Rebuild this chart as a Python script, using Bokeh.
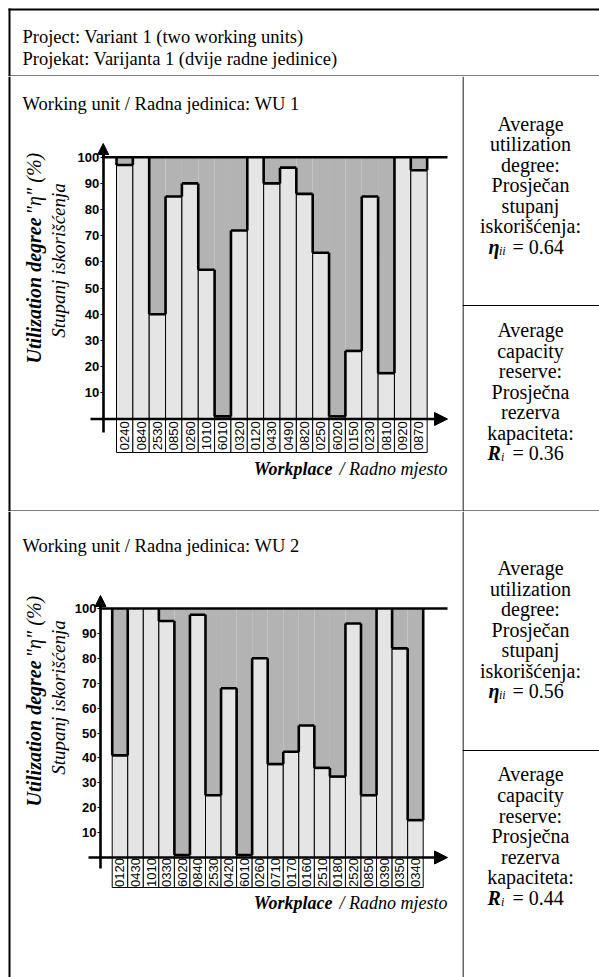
import math
from bokeh.plotting import figure
from bokeh.models import Range1d, FixedTicker, LinearAxis, Arrow, NormalHead
from bokeh.layouts import row, column
from bokeh.core.properties import value
from bokeh.embed import file_html
from bokeh.resources import INLINE

# ---------------- data ----------------
header_lines = ["Project: Variant 1 (two working units)",
                "Projekat: Varijanta 1 (dvije radne jedinice)"]

wu1_title = "Working unit / Radna jedinica: WU 1"
wu1_places = ["0240", "0840", "2530", "0850", "0260", "1010", "6010", "0320", "0120", "0430",
              "0490", "0820", "0250", "6020", "0150", "0230", "0810", "0920", "0870"]
wu1_util = [97, 100, 40, 85, 90, 57, 1, 72, 100, 90, 96, 86, 63.5, 1, 26, 85, 17.5, 100, 95]
wu1_avg_util = 0.64
wu1_avg_reserve = 0.36

wu2_title = "Working unit / Radna jedinica: WU 2"
wu2_places = ["0120", "0430", "1010", "0330", "6020", "0840", "2530", "0420", "6010", "0260",
              "0710", "0170", "0160", "2510", "0180", "2520", "0850", "0390", "0350", "0340"]
wu2_util = [41, 100, 100, 95, 1, 97.5, 25, 68, 1, 80, 37.5, 42.5, 53, 36, 32.5, 94, 25, 100, 84, 15]
wu2_avg_util = 0.56
wu2_avg_reserve = 0.44

y_ticks = [10, 20, 30, 40, 50, 60, 70, 80, 90, 100]
full_capacity = 100

util_lines = ["Average", "utilization", "degree:", "Prosječan", "stupanj", "iskorišćenja:"]
reserve_lines = ["Average", "capacity", "reserve:", "Prosječna", "rezerva", "kapaciteta:"]
y_title_main = "Utilization degree"
y_title_sym = "\"\u03b7\" (%)"
y_title_sub = "Stupanj iskorišćenja"
x_title_main = "Workplace"
x_title_sub = "/ Radno mjesto"

# ---------------- style ----------------
LIGHT = "#e5e5e5"
DARK = "#b3b3b3"
SERIF = "'Liberation Serif'"
SANS = "'Liberation Sans'"


def base_fig(w, h, xr, yr):
    p = figure(width=w, height=h, toolbar_location=None, output_backend="svg",
               x_axis_location=None, y_axis_location=None, min_border=0,
               x_range=xr, y_range=yr,
               background_fill_color="white", border_fill_color="white",
               outline_line_color=None)
    p.grid.visible = False
    return p


def px_fig(w, h):
    return base_fig(w, h, Range1d(0, w), Range1d(h, 0))


def serif_text(p, x, y, txt, size, style="normal", align="left", angle=0.0, baseline="middle"):
    p.text(x=[x], y=[y], text=[txt], angle=angle, text_align=align, text_baseline=baseline,
           text_font=value(SERIF), text_font_style=style, text_font_size=size,
           text_color="black")


def make_chart(g, title, places, util):
    W, H = g["W"], g["H"]
    ox, oy = g["origin"]
    bl, bw, zy, ppu = g["bar0_left"], g["bar_w"], g["zero_y"], g["ppu"]

    def xd(px):
        return (px - bl) / bw - 0.5

    def yd(py):
        return (zy - py) / ppu

    p = base_fig(W, H, Range1d(xd(ox), xd(ox + W)), Range1d(yd(oy + H), yd(oy)))
    n = len(util)
    xs = list(range(n))
    box_bottom = yd(g["box_bottom"])

    # cell borders: outer left border (and bottom line for the upper cell)
    p.segment(x0=[xd(9)], y0=[yd(oy)], x1=[xd(9)], y1=[yd(oy + H)],
              line_color="black", line_width=2)
    if g["bottom_line"]:
        p.segment(x0=[xd(8)], y0=[yd(oy + H - 0.5)], x1=[xd(ox + W)], y1=[yd(oy + H - 0.5)],
                  line_color="black", line_width=1.2)

    # label boxes
    p.vbar(x=xs, width=1, bottom=box_bottom, top=0, fill_color="white",
           line_color="black", line_width=1)
    # utilization bars
    p.vbar(x=xs, width=1, bottom=0, top=util, fill_color=LIGHT,
           line_color="black", line_width=1)
    # capacity reserve
    p.vbar(x=xs, width=1, bottom=util, top=full_capacity, fill_color=DARK,
           line_color=None)
    # thick outline of the reserve area
    x0, y0, x1, y1 = [], [], [], []
    for i, v in enumerate(util):
        if v < full_capacity:
            x0.append(i - 0.5); x1.append(i + 0.5); y0.append(v); y1.append(v)
    ext = [full_capacity] + list(util) + [full_capacity]
    for b in range(n + 1):
        a, c = ext[b], ext[b + 1]
        if a != c:
            x0.append(b - 0.5); x1.append(b - 0.5); y0.append(min(a, c)); y1.append(max(a, c))
    p.segment(x0=x0, y0=y0, x1=x1, y1=y1, line_color="black", line_width=2.6)
    # 100 % line
    p.segment(x0=[xd(g["axis_x"])], y0=[full_capacity], x1=[xd(g["tip"])], y1=[full_capacity],
              line_color="black", line_width=2.6)
    # workplace codes
    p.text(x=xs, y=[yd((zy + g["box_bottom"]) / 2)] * n, text=places, angle=math.pi / 2,
           text_align="center", text_baseline="middle", text_font=value(SANS),
           text_font_size="13px", text_color="black")

    # y axis (real axis, fixed inside the frame)
    yax = LinearAxis(fixed_location=xd(g["axis_x"]), ticker=FixedTicker(ticks=y_ticks),
                     bounds=(yd(g["axis_bottom"]), yd(g["ytip"] + 8)),
                     axis_line_width=2.6, axis_line_color="black",
                     major_tick_out=3, major_tick_in=0, major_tick_line_width=1,
                     minor_tick_out=0, minor_tick_in=0,
                     major_label_text_font=SANS, major_label_text_font_style="bold",
                     major_label_text_font_size="13px", major_label_standoff=1,
                     major_label_text_color="black")
    p.add_layout(yax, "left")

    # arrows
    p.add_layout(Arrow(end=NormalHead(size=13, fill_color="black", line_color="black", line_width=1),
                       x_start=xd(g["xaxis_start"]), y_start=0, x_end=xd(g["tip"]), y_end=0,
                       line_color="black", line_width=2.6))
    p.add_layout(Arrow(end=NormalHead(size=11, fill_color="black", line_color="black", line_width=1),
                       x_start=xd(g["axis_x"]), y_start=full_capacity, x_end=xd(g["axis_x"]),
                       y_end=yd(g["ytip"]), line_color="black", line_width=2.6))

    # texts
    serif_text(p, xd(22), yd(g["title_y"]), title, "18.5px")
    serif_text(p, xd(g["yt_x"]), yd(g["yt_start"]), y_title_main, "20px", "bold italic",
               angle=math.pi / 2)
    serif_text(p, xd(g["yt_x"]), yd(g["yt_sym"]), y_title_sym, "20px", "italic",
               angle=math.pi / 2)
    serif_text(p, xd(g["ys_x"]), yd(g["ys_c"]), y_title_sub, "19px", "italic",
               align="center", angle=math.pi / 2)
    serif_text(p, xd(332), yd(g["xt_y"]), x_title_main, "18px", "bold italic", align="right")
    serif_text(p, xd(g["tip"]), yd(g["xt_y"]), x_title_sub, "18px", "italic", align="right")
    return p


def make_side(h, divider_y, ys_util, eta_y, ys_res, r_y, eta_val, res_val, bottom_line):
    w = 137
    p = px_fig(w, h)
    p.segment(x0=[0.5, 0], y0=[0, divider_y], x1=[0.5, w], y1=[h, divider_y],
              line_color="black", line_width=1.2)
    if bottom_line:
        p.segment(x0=[0], y0=[h - 0.5], x1=[w], y1=[h - 0.5], line_color="black", line_width=1.2)
    cx = 68
    size = "20px"
    p.text(x=[cx] * len(util_lines), y=ys_util, text=util_lines, text_align="center",
           text_baseline="middle", text_font=value(SERIF), text_font_size=size, text_color="black")
    p.text(x=[cx] * len(reserve_lines), y=ys_res, text=reserve_lines, text_align="center",
           text_baseline="middle", text_font=value(SERIF), text_font_size=size, text_color="black")
    # eta_ii = value
    serif_text(p, 26, eta_y, "\u03b7", size, "bold italic")
    serif_text(p, 36.5, eta_y + 4, "ii", "12px", "italic")
    serif_text(p, 50, eta_y, f"= {eta_val:.2f}", size)
    # R_i = value
    serif_text(p, 25, r_y, "R", size, "bold italic")
    serif_text(p, 38.5, r_y + 4, "i", "12px", "italic")
    serif_text(p, 50, r_y, f"= {res_val:.2f}", size)
    return p


# header cell
header = px_fig(599, 76)
header.segment(x0=[8, 9, 8], y0=[9, 8, 75.5], x1=[599, 9, 599], y1=[9, 76, 75.5],
               line_color="black", line_width=[2, 2, 1.2])
for i, line in enumerate(header_lines):
    serif_text(header, 22, [36.5, 58.5][i], line, "18.5px", baseline="alphabetic")

g1 = dict(W=462, H=435, origin=(0, 76), bar0_left=116, bar_w=16.35, zero_y=418.5,
          ppu=2.618, axis_x=102.7, box_bottom=452, axis_bottom=432, xaxis_start=90, tip=447,
          ytip=143, title_y=103, yt_x=33, yt_start=363, yt_sym=214, ys_x=58, ys_c=260, xt_y=468,
          bottom_line=True)
g2 = dict(W=462, H=466, origin=(0, 511), bar0_left=111.7, bar_w=15.55, zero_y=857,
          ppu=2.49, axis_x=100, box_bottom=887, axis_bottom=868, xaxis_start=88, tip=447,
          ytip=595, title_y=545, yt_x=33, yt_start=806, yt_sym=657, ys_x=58, ys_c=697, xt_y=902,
          bottom_line=False)

c1 = make_chart(g1, wu1_title, wu1_places, wu1_util)
c2 = make_chart(g2, wu2_title, wu2_places, wu2_util)

s1 = make_side(435, 229, [47, 67, 88, 108, 129, 149], 170,
               [253, 274, 294, 315, 335, 356], 376, wu1_avg_util, wu1_avg_reserve, True)
s2 = make_side(466, 239, [56, 77, 97, 118, 138, 159], 179,
               [262, 283, 304, 324, 345, 365], 386, wu2_avg_util, wu2_avg_reserve, False)

page = column(header, row(c1, s1), row(c2, s2))

open("out.html", "w").write(file_html(page, INLINE))
